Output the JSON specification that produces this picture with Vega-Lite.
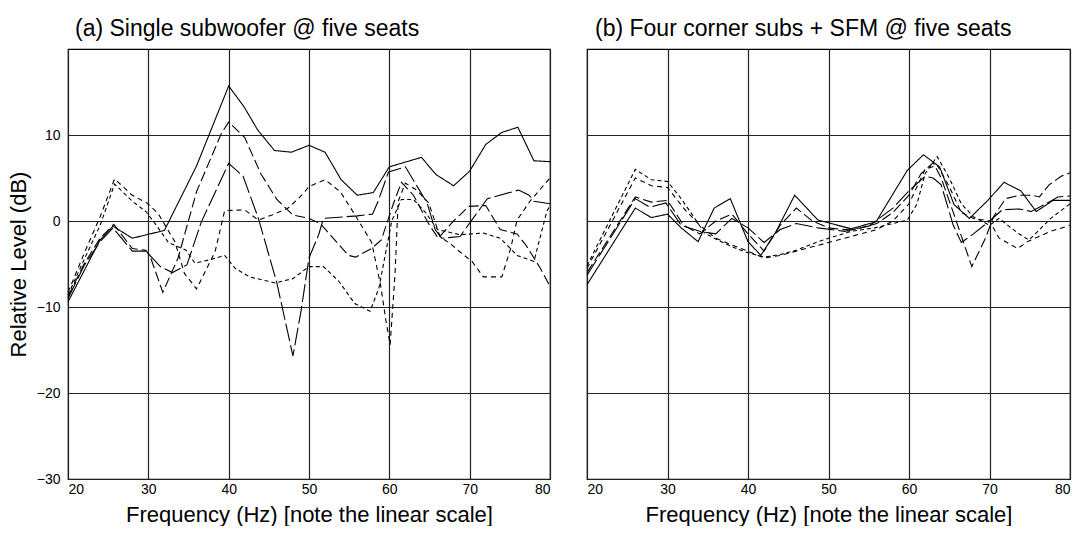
{
  "$schema": "https://vega.github.io/schema/vega-lite/v6.json",
  "background": "white",
  "padding": {"left": 6, "top": 17, "right": 0, "bottom": 0},
  "bounds": "flush",
  "spacing": 37,
  "config": {
    "font": "Liberation Sans",
    "view": {"stroke": "black", "strokeWidth": 1.2},
    "axis": {
      "domain": false,
      "ticks": false,
      "grid": true,
      "gridColor": "#222",
      "gridOpacity": 1,
      "gridWidth": 1.2,
      "labelFont": "Liberation Sans",
      "labelFontSize": 14,
      "labelColor": "black",
      "titleFont": "Liberation Sans",
      "titleFontSize": 22,
      "titleFontWeight": "normal",
      "titleColor": "black"
    },
    "title": {"font": "Liberation Sans", "fontSize": 23, "fontWeight": "normal", "color": "black", "anchor": "start", "frame": "group"}
  },
  "data": {"values": [
    {"p":"a","s":"s1","f":20,"v":-9.4},{"p":"a","s":"s1","f":22.5,"v":-4.9},{"p":"a","s":"s1","f":24,"v":-2.2},{"p":"a","s":"s1","f":25.6,"v":-0.6},{"p":"a","s":"s1","f":28,"v":-2.0},{"p":"a","s":"s1","f":32,"v":-1.1},{"p":"a","s":"s1","f":36,"v":6.4},{"p":"a","s":"s1","f":40,"v":15.7},{"p":"a","s":"s1","f":41.9,"v":13.3},{"p":"a","s":"s1","f":43.6,"v":10.6},{"p":"a","s":"s1","f":45.7,"v":8.2},{"p":"a","s":"s1","f":47.8,"v":8.0},{"p":"a","s":"s1","f":50,"v":8.8},{"p":"a","s":"s1","f":52,"v":8.0},{"p":"a","s":"s1","f":54,"v":4.8},{"p":"a","s":"s1","f":56,"v":3.0},{"p":"a","s":"s1","f":58,"v":3.3},{"p":"a","s":"s1","f":60,"v":6.3},{"p":"a","s":"s1","f":64,"v":7.4},{"p":"a","s":"s1","f":65.8,"v":5.4},{"p":"a","s":"s1","f":68,"v":4.1},{"p":"a","s":"s1","f":70,"v":5.8},{"p":"a","s":"s1","f":72,"v":8.9},{"p":"a","s":"s1","f":74,"v":10.3},{"p":"a","s":"s1","f":76,"v":10.9},{"p":"a","s":"s1","f":78,"v":7.0},{"p":"a","s":"s1","f":80,"v":6.9},

    {"p":"a","s":"s2","f":20,"v":-8.8},{"p":"a","s":"s2","f":22,"v":-5.0},{"p":"a","s":"s2","f":24,"v":-2.0},{"p":"a","s":"s2","f":25.7,"v":-0.4},{"p":"a","s":"s2","f":28,"v":-3.2},{"p":"a","s":"s2","f":29.7,"v":-3.4},{"p":"a","s":"s2","f":30.3,"v":-4.3},{"p":"a","s":"s2","f":31.8,"v":-8.3},{"p":"a","s":"s2","f":33.7,"v":-4.3},{"p":"a","s":"s2","f":36,"v":3.4},{"p":"a","s":"s2","f":39.1,"v":10.2},{"p":"a","s":"s2","f":40,"v":11.5},{"p":"a","s":"s2","f":42,"v":9.7},{"p":"a","s":"s2","f":44,"v":5.5},{"p":"a","s":"s2","f":46,"v":2.5},{"p":"a","s":"s2","f":48,"v":0.7},{"p":"a","s":"s2","f":50,"v":0.3},{"p":"a","s":"s2","f":51.4,"v":-0.3},{"p":"a","s":"s2","f":53,"v":-2.0},{"p":"a","s":"s2","f":54.9,"v":-4.0},{"p":"a","s":"s2","f":55.8,"v":-4.2},{"p":"a","s":"s2","f":57.8,"v":-3.2},{"p":"a","s":"s2","f":59,"v":-2.2},{"p":"a","s":"s2","f":60.5,"v":2.0},{"p":"a","s":"s2","f":61.5,"v":4.5},{"p":"a","s":"s2","f":63,"v":3.0},{"p":"a","s":"s2","f":65,"v":-0.5},{"p":"a","s":"s2","f":66.1,"v":-2.0},{"p":"a","s":"s2","f":68,"v":0.0},{"p":"a","s":"s2","f":69.9,"v":1.7},{"p":"a","s":"s2","f":72,"v":1.8},{"p":"a","s":"s2","f":73.8,"v":-1.0},{"p":"a","s":"s2","f":75.9,"v":-1.5},{"p":"a","s":"s2","f":77,"v":-2.8},{"p":"a","s":"s2","f":78.8,"v":-5.5},{"p":"a","s":"s2","f":80,"v":-7.6},

    {"p":"a","s":"s3","f":20,"v":-9.0},{"p":"a","s":"s3","f":22,"v":-5.2},{"p":"a","s":"s3","f":24,"v":-2.4},{"p":"a","s":"s3","f":25.6,"v":-0.8},{"p":"a","s":"s3","f":28,"v":-3.5},{"p":"a","s":"s3","f":29.7,"v":-3.5},{"p":"a","s":"s3","f":31.5,"v":-5.3},{"p":"a","s":"s3","f":33,"v":-6.0},{"p":"a","s":"s3","f":34.8,"v":-5.1},{"p":"a","s":"s3","f":36.6,"v":-0.1},{"p":"a","s":"s3","f":40,"v":6.7},{"p":"a","s":"s3","f":41.8,"v":5.2},{"p":"a","s":"s3","f":43.7,"v":0.3},{"p":"a","s":"s3","f":46,"v":-7.2},{"p":"a","s":"s3","f":48,"v":-15.7},{"p":"a","s":"s3","f":49,"v":-10.5},{"p":"a","s":"s3","f":50,"v":-4.3},{"p":"a","s":"s3","f":51.2,"v":-1.6},{"p":"a","s":"s3","f":51.8,"v":0.3},{"p":"a","s":"s3","f":56,"v":0.6},{"p":"a","s":"s3","f":57.9,"v":0.8},{"p":"a","s":"s3","f":58.6,"v":2.3},{"p":"a","s":"s3","f":59.9,"v":5.7},{"p":"a","s":"s3","f":62,"v":6.3},{"p":"a","s":"s3","f":64.7,"v":2.1},{"p":"a","s":"s3","f":65.7,"v":-1.0},{"p":"a","s":"s3","f":66.5,"v":-2.0},{"p":"a","s":"s3","f":68.8,"v":-1.8},{"p":"a","s":"s3","f":72.2,"v":2.6},{"p":"a","s":"s3","f":76.1,"v":3.6},{"p":"a","s":"s3","f":77.4,"v":3.0},{"p":"a","s":"s3","f":78,"v":2.3},{"p":"a","s":"s3","f":80,"v":2.0},

    {"p":"a","s":"s4","f":20,"v":-8.3},{"p":"a","s":"s4","f":22,"v":-3.8},{"p":"a","s":"s4","f":24,"v":0.5},{"p":"a","s":"s4","f":25.8,"v":4.9},{"p":"a","s":"s4","f":28,"v":3.0},{"p":"a","s":"s4","f":29.8,"v":2.1},{"p":"a","s":"s4","f":31.2,"v":0.9},{"p":"a","s":"s4","f":33.3,"v":-2.4},{"p":"a","s":"s4","f":34.5,"v":-6.1},{"p":"a","s":"s4","f":36,"v":-7.9},{"p":"a","s":"s4","f":38.3,"v":-3.6},{"p":"a","s":"s4","f":39.5,"v":1.2},{"p":"a","s":"s4","f":42,"v":1.3},{"p":"a","s":"s4","f":43.7,"v":0.1},{"p":"a","s":"s4","f":45.4,"v":0.7},{"p":"a","s":"s4","f":47.4,"v":1.5},{"p":"a","s":"s4","f":49.1,"v":3.0},{"p":"a","s":"s4","f":50,"v":4.0},{"p":"a","s":"s4","f":52,"v":4.8},{"p":"a","s":"s4","f":53.9,"v":3.4},{"p":"a","s":"s4","f":56,"v":0.3},{"p":"a","s":"s4","f":57.8,"v":-2.5},{"p":"a","s":"s4","f":58.9,"v":-7.4},{"p":"a","s":"s4","f":59.6,"v":-11.7},{"p":"a","s":"s4","f":60.1,"v":-14.4},{"p":"a","s":"s4","f":60.7,"v":-6.3},{"p":"a","s":"s4","f":61.1,"v":2.3},{"p":"a","s":"s4","f":62,"v":4.4},{"p":"a","s":"s4","f":63.4,"v":3.6},{"p":"a","s":"s4","f":64.9,"v":2.1},{"p":"a","s":"s4","f":66.3,"v":-1.8},{"p":"a","s":"s4","f":67.8,"v":-2.8},{"p":"a","s":"s4","f":68.8,"v":-3.6},{"p":"a","s":"s4","f":70.3,"v":-4.7},{"p":"a","s":"s4","f":71.7,"v":-6.5},{"p":"a","s":"s4","f":74,"v":-6.5},{"p":"a","s":"s4","f":75.1,"v":-3.2},{"p":"a","s":"s4","f":75.9,"v":0.1},{"p":"a","s":"s4","f":77.5,"v":2.3},{"p":"a","s":"s4","f":80,"v":5.0},

    {"p":"a","s":"s5","f":20,"v":-8.6},{"p":"a","s":"s5","f":22,"v":-4.5},{"p":"a","s":"s5","f":24,"v":-0.5},{"p":"a","s":"s5","f":25.8,"v":4.3},{"p":"a","s":"s5","f":28,"v":2.3},{"p":"a","s":"s5","f":29.7,"v":1.1},{"p":"a","s":"s5","f":31,"v":-0.5},{"p":"a","s":"s5","f":32.5,"v":-2.5},{"p":"a","s":"s5","f":34.7,"v":-3.4},{"p":"a","s":"s5","f":35.8,"v":-4.9},{"p":"a","s":"s5","f":37.7,"v":-4.5},{"p":"a","s":"s5","f":39.5,"v":-4.0},{"p":"a","s":"s5","f":40.8,"v":-5.5},{"p":"a","s":"s5","f":42.6,"v":-6.5},{"p":"a","s":"s5","f":45.8,"v":-7.2},{"p":"a","s":"s5","f":48,"v":-6.7},{"p":"a","s":"s5","f":50,"v":-5.3},{"p":"a","s":"s5","f":51.8,"v":-5.3},{"p":"a","s":"s5","f":53.7,"v":-7.0},{"p":"a","s":"s5","f":55.7,"v":-9.6},{"p":"a","s":"s5","f":57.6,"v":-10.5},{"p":"a","s":"s5","f":58.7,"v":-7.8},{"p":"a","s":"s5","f":60.3,"v":0.0},{"p":"a","s":"s5","f":61.5,"v":2.5},{"p":"a","s":"s5","f":63,"v":2.5},{"p":"a","s":"s5","f":64.5,"v":1.0},{"p":"a","s":"s5","f":66,"v":-1.0},{"p":"a","s":"s5","f":68.8,"v":-1.6},{"p":"a","s":"s5","f":71.7,"v":-1.4},{"p":"a","s":"s5","f":73.8,"v":-2.0},{"p":"a","s":"s5","f":75.9,"v":-4.0},{"p":"a","s":"s5","f":78,"v":-4.7},{"p":"a","s":"s5","f":79.6,"v":1.1},{"p":"a","s":"s5","f":80,"v":1.8},

    {"p":"b","s":"s1","f":20,"v":-7.4},{"p":"b","s":"s1","f":26,"v":1.5},{"p":"b","s":"s1","f":28,"v":0.4},{"p":"b","s":"s1","f":30,"v":0.8},{"p":"b","s":"s1","f":31.7,"v":-0.8},{"p":"b","s":"s1","f":33.8,"v":-2.4},{"p":"b","s":"s1","f":35.8,"v":1.5},{"p":"b","s":"s1","f":37.8,"v":2.6},{"p":"b","s":"s1","f":40,"v":-2.4},{"p":"b","s":"s1","f":41.6,"v":-4.0},{"p":"b","s":"s1","f":43.5,"v":-1.2},{"p":"b","s":"s1","f":45.8,"v":3.0},{"p":"b","s":"s1","f":48.7,"v":0.1},{"p":"b","s":"s1","f":52.8,"v":-0.9},{"p":"b","s":"s1","f":55.9,"v":-0.1},{"p":"b","s":"s1","f":59.8,"v":5.9},{"p":"b","s":"s1","f":61.8,"v":7.7},{"p":"b","s":"s1","f":63.8,"v":6.3},{"p":"b","s":"s1","f":65.6,"v":1.9},{"p":"b","s":"s1","f":67.5,"v":0.3},{"p":"b","s":"s1","f":69.8,"v":2.4},{"p":"b","s":"s1","f":71.8,"v":4.5},{"p":"b","s":"s1","f":73.9,"v":3.5},{"p":"b","s":"s1","f":75.8,"v":1.1},{"p":"b","s":"s1","f":77.9,"v":2.4},{"p":"b","s":"s1","f":80,"v":2.4},

    {"p":"b","s":"s3","f":20,"v":-6.3},{"p":"b","s":"s3","f":26,"v":2.6},{"p":"b","s":"s3","f":27.8,"v":1.6},{"p":"b","s":"s3","f":29.8,"v":2.1},{"p":"b","s":"s3","f":31.7,"v":-0.5},{"p":"b","s":"s3","f":34,"v":-1.2},{"p":"b","s":"s3","f":36,"v":-1.5},{"p":"b","s":"s3","f":38,"v":0.3},{"p":"b","s":"s3","f":40,"v":-0.8},{"p":"b","s":"s3","f":42,"v":-2.5},{"p":"b","s":"s3","f":44,"v":-1.0},{"p":"b","s":"s3","f":46,"v":-0.3},{"p":"b","s":"s3","f":48.7,"v":-0.8},{"p":"b","s":"s3","f":52,"v":-1.2},{"p":"b","s":"s3","f":55,"v":-0.6},{"p":"b","s":"s3","f":58,"v":1.5},{"p":"b","s":"s3","f":60,"v":3.5},{"p":"b","s":"s3","f":62,"v":5.2},{"p":"b","s":"s3","f":63,"v":5.0},{"p":"b","s":"s3","f":64,"v":4.2},{"p":"b","s":"s3","f":65.5,"v":-0.5},{"p":"b","s":"s3","f":66.5,"v":-2.5},{"p":"b","s":"s3","f":68,"v":-1.5},{"p":"b","s":"s3","f":70,"v":0.0},{"p":"b","s":"s3","f":71.6,"v":1.3},{"p":"b","s":"s3","f":73.7,"v":1.4},{"p":"b","s":"s3","f":75.2,"v":1.1},{"p":"b","s":"s3","f":77,"v":2.0},{"p":"b","s":"s3","f":78.5,"v":2.8},{"p":"b","s":"s3","f":80,"v":2.9},

    {"p":"b","s":"s2","f":20,"v":-6.0},{"p":"b","s":"s2","f":26,"v":2.8},{"p":"b","s":"s2","f":28,"v":2.2},{"p":"b","s":"s2","f":30,"v":2.4},{"p":"b","s":"s2","f":32,"v":-0.5},{"p":"b","s":"s2","f":34,"v":-1.5},{"p":"b","s":"s2","f":36,"v":0.0},{"p":"b","s":"s2","f":38,"v":0.8},{"p":"b","s":"s2","f":40,"v":-1.5},{"p":"b","s":"s2","f":42,"v":-3.5},{"p":"b","s":"s2","f":44,"v":-0.5},{"p":"b","s":"s2","f":46,"v":1.5},{"p":"b","s":"s2","f":48,"v":0.0},{"p":"b","s":"s2","f":50,"v":-0.8},{"p":"b","s":"s2","f":52,"v":-1.0},{"p":"b","s":"s2","f":54,"v":-0.8},{"p":"b","s":"s2","f":56,"v":-0.3},{"p":"b","s":"s2","f":58,"v":1.0},{"p":"b","s":"s2","f":60,"v":3.0},{"p":"b","s":"s2","f":61.5,"v":5.5},{"p":"b","s":"s2","f":63,"v":6.8},{"p":"b","s":"s2","f":64,"v":5.0},{"p":"b","s":"s2","f":65.5,"v":1.0},{"p":"b","s":"s2","f":67.8,"v":-5.3},{"p":"b","s":"s2","f":69.5,"v":-2.0},{"p":"b","s":"s2","f":70.5,"v":0.5},{"p":"b","s":"s2","f":72,"v":2.6},{"p":"b","s":"s2","f":73.7,"v":3.0},{"p":"b","s":"s2","f":75.2,"v":3.0},{"p":"b","s":"s2","f":76.2,"v":2.8},{"p":"b","s":"s2","f":77.4,"v":4.2},{"p":"b","s":"s2","f":78.9,"v":5.2},{"p":"b","s":"s2","f":80,"v":5.6},

    {"p":"b","s":"s4","f":20,"v":-5.5},{"p":"b","s":"s4","f":26,"v":5.0},{"p":"b","s":"s4","f":28,"v":4.1},{"p":"b","s":"s4","f":30,"v":3.9},{"p":"b","s":"s4","f":32,"v":1.5},{"p":"b","s":"s4","f":34,"v":-0.5},{"p":"b","s":"s4","f":36,"v":-2.0},{"p":"b","s":"s4","f":38,"v":-2.8},{"p":"b","s":"s4","f":40,"v":-3.5},{"p":"b","s":"s4","f":42,"v":-4.3},{"p":"b","s":"s4","f":44,"v":-4.0},{"p":"b","s":"s4","f":46,"v":-3.5},{"p":"b","s":"s4","f":48,"v":-3.0},{"p":"b","s":"s4","f":50,"v":-2.5},{"p":"b","s":"s4","f":52,"v":-2.0},{"p":"b","s":"s4","f":54,"v":-1.5},{"p":"b","s":"s4","f":56,"v":-1.0},{"p":"b","s":"s4","f":58,"v":0.0},{"p":"b","s":"s4","f":60,"v":2.0},{"p":"b","s":"s4","f":62,"v":6.0},{"p":"b","s":"s4","f":63.5,"v":6.5},{"p":"b","s":"s4","f":65,"v":4.0},{"p":"b","s":"s4","f":66.5,"v":1.0},{"p":"b","s":"s4","f":68,"v":0.3},{"p":"b","s":"s4","f":70,"v":0.0},{"p":"b","s":"s4","f":71.2,"v":-2.0},{"p":"b","s":"s4","f":73.5,"v":-3.2},{"p":"b","s":"s4","f":74.7,"v":-2.4},{"p":"b","s":"s4","f":77.6,"v":-1.2},{"p":"b","s":"s4","f":80,"v":-0.5},

    {"p":"b","s":"s5","f":20,"v":-5.2},{"p":"b","s":"s5","f":26,"v":6.0},{"p":"b","s":"s5","f":28,"v":4.8},{"p":"b","s":"s5","f":30,"v":4.6},{"p":"b","s":"s5","f":31.7,"v":2.6},{"p":"b","s":"s5","f":33.1,"v":0.7},{"p":"b","s":"s5","f":34.6,"v":-1.4},{"p":"b","s":"s5","f":36.2,"v":-2.2},{"p":"b","s":"s5","f":38,"v":-3.0},{"p":"b","s":"s5","f":40,"v":-3.7},{"p":"b","s":"s5","f":42,"v":-4.2},{"p":"b","s":"s5","f":44,"v":-3.9},{"p":"b","s":"s5","f":46,"v":-3.4},{"p":"b","s":"s5","f":48.7,"v":-2.4},{"p":"b","s":"s5","f":52.8,"v":-1.2},{"p":"b","s":"s5","f":55.7,"v":-0.8},{"p":"b","s":"s5","f":59.8,"v":0.1},{"p":"b","s":"s5","f":61,"v":2.0},{"p":"b","s":"s5","f":62,"v":5.5},{"p":"b","s":"s5","f":63.5,"v":7.5},{"p":"b","s":"s5","f":65,"v":5.0},{"p":"b","s":"s5","f":66.5,"v":2.0},{"p":"b","s":"s5","f":68,"v":0.5},{"p":"b","s":"s5","f":70,"v":-0.5},{"p":"b","s":"s5","f":71.2,"v":0.3},{"p":"b","s":"s5","f":73.5,"v":-1.4},{"p":"b","s":"s5","f":74.9,"v":-2.2},{"p":"b","s":"s5","f":76,"v":-1.2},{"p":"b","s":"s5","f":77.6,"v":0.3},{"p":"b","s":"s5","f":80,"v":2.0}
  ]},
  "hconcat": [
    {
      "width": 482, "height": 430,
      "title": {"text": "(a) Single subwoofer @ five seats", "dx": 7, "offset": 8},
      "transform": [{"filter": "datum.p == 'a'"}],
      "mark": {"type": "line", "color": "black", "strokeWidth": 1.1},
      "encoding": {
        "x": {"field": "f", "type": "quantitative", "scale": {"domain": [20, 80], "nice": false, "zero": false},
              "axis": {"values": [20, 30, 40, 50, 60, 70, 80], "title": "Frequency (Hz) [note the linear scale]", "labelPadding": 3, "titlePadding": 8}},
        "y": {"field": "v", "type": "quantitative", "scale": {"domain": [-30, 20], "nice": false, "zero": false},
              "axis": {"values": [-30, -20, -10, 0, 10], "title": "Relative Level (dB)", "labelPadding": 8, "titlePadding": 6}},
        "strokeDash": {"field": "s", "type": "nominal",
                       "scale": {"domain": ["s1", "s2", "s3", "s4", "s5"], "range": [[1, 0], [10, 4], [18, 4], [5, 4], [4, 3]]},
                       "legend": null}
      }
    },
    {
      "width": 483, "height": 430,
      "title": {"text": "(b) Four corner subs + SFM @ five seats", "dx": 8, "offset": 8},
      "transform": [{"filter": "datum.p == 'b'"}],
      "mark": {"type": "line", "color": "black", "strokeWidth": 1.1},
      "encoding": {
        "x": {"field": "f", "type": "quantitative", "scale": {"domain": [20, 80], "nice": false, "zero": false},
              "axis": {"values": [20, 30, 40, 50, 60, 70, 80], "title": "Frequency (Hz) [note the linear scale]", "labelPadding": 3, "titlePadding": 8}},
        "y": {"field": "v", "type": "quantitative", "scale": {"domain": [-30, 20], "nice": false, "zero": false},
              "axis": {"values": [-30, -20, -10, 0, 10], "title": null, "labels": false}},
        "strokeDash": {"field": "s", "type": "nominal",
                       "scale": {"domain": ["s1", "s2", "s3", "s4", "s5"], "range": [[1, 0], [10, 4], [18, 4], [5, 4], [4, 3]]},
                       "legend": null}
      }
    }
  ]
}
